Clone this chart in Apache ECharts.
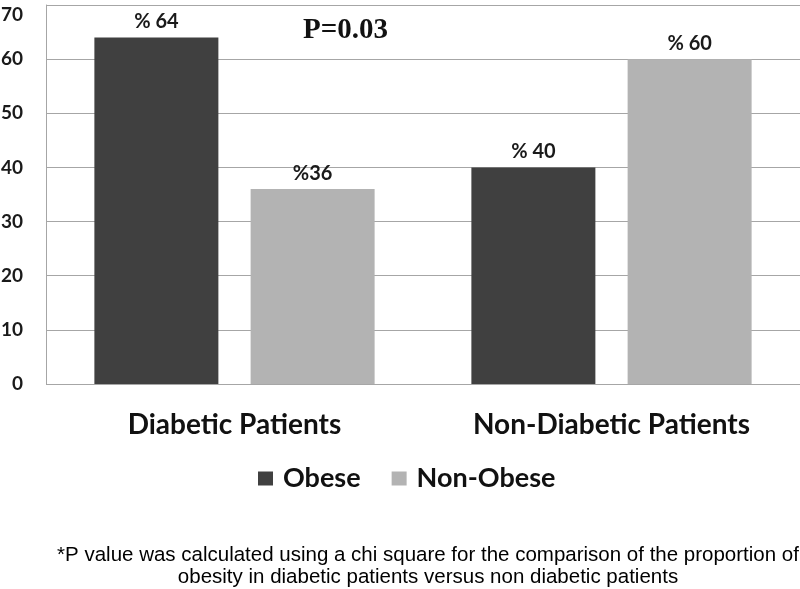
<!DOCTYPE html>
<html>
<head>
<meta charset="utf-8">
<script src="https://cdn.jsdelivr.net/npm/echarts@6/dist/echarts.min.js"></script>
<style>html,body{margin:0;padding:0;background:#fff;}#c{width:800px;height:589px;}</style>
</head>
<body>
<div id="c"></div>
<script>
const categories = ['Diabetic Patients', 'Non-Diabetic Patients'];
const seriesNames = ['Obese', 'Non-Obese'];
const obeseValues = [64, 40];
const nonObeseValues = [36, 60];
const obeseLabels = ['% 64', '% 40'];
const nonObeseLabels = ['%36', '% 60'];
const yTicks = [0, 10, 20, 30, 40, 50, 60, 70];
const pValueText = 'P=0.03';
const footnoteLines = [
  '*P value was calculated using a chi square for the comparison of the proportion of',
  'obesity in diabetic patients versus non diabetic patients'
];

const chart = echarts.init(document.getElementById('c'), null, {renderer: 'canvas'});
const boldFont = 'Lato';
const labelStyle = (arr) => ({
  show: true, position: 'top', distance: 6,
  formatter: p => arr[p.dataIndex],
  fontFamily: boldFont, fontWeight: 'bold', fontSize: 20, color: '#1a1a1a'
});
chart.setOption({
  animation: false,
  backgroundColor: '#fff',
  grid: {left: 46, right: 0, top: 5, bottom: 205, containLabel: false, outerBoundsMode: 'none'},
  legend: {
    data: seriesNames, left: 253, top: 460, itemWidth: 15, itemHeight: 14, itemGap: 31,
    icon: 'rect',
    textStyle: {fontFamily: boldFont, fontWeight: 'bold', fontSize: 27, color: '#111', padding: [0, 0, 0, 5]}
  },
  xAxis: {
    type: 'category', data: categories,
    axisLine: {show: false}, axisTick: {show: false},
    axisLabel: {margin: 27, fontFamily: boldFont, fontWeight: 'bold', fontSize: 28, color: '#111'}
  },
  yAxis: {
    type: 'value', min: yTicks[0], max: yTicks[yTicks.length - 1], interval: 10,
    axisLine: {show: true, lineStyle: {color: '#a6a6a6', width: 1}},
    axisTick: {show: false},
    axisLabel: {margin: 23, fontFamily: boldFont, fontWeight: 'bold', fontSize: 19, color: '#1a1a1a',
      verticalAlignMaxLabel: 'top'},
    splitLine: {show: true, lineStyle: {color: '#a6a6a6', width: 1}}
  },
  series: [
    {name: seriesNames[0], type: 'bar', data: obeseValues, barWidth: 124, barGap: '26%',
     itemStyle: {color: '#404040'}, label: labelStyle(obeseLabels)},
    {name: seriesNames[1], type: 'bar', data: nonObeseValues, barWidth: 124, barGap: '26%',
     itemStyle: {color: '#b3b3b3'}, label: labelStyle(nonObeseLabels)}
  ],
  graphic: [
    {type: 'text', left: 303, top: 16, style: {text: pValueText, fontFamily: 'Liberation Serif', fontWeight: 'bold', fontSize: 29, fill: '#111'}},
    {type: 'text', x: 428, y: 545, style: {text: footnoteLines[0], align: 'center', fontFamily: 'Liberation Sans', fontSize: 20.5, fill: '#000'}},
    {type: 'text', x: 428, y: 567, style: {text: footnoteLines[1], align: 'center', fontFamily: 'Liberation Sans', fontSize: 20.5, fill: '#000'}}
  ]
});
</script>
</body>
</html>
